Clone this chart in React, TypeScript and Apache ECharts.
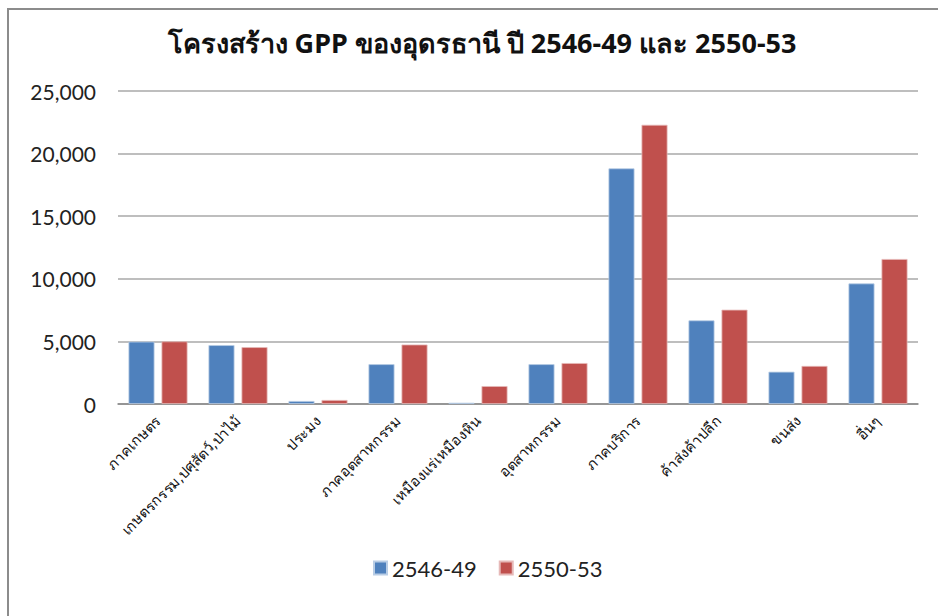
import React, { useEffect, useRef } from "react";
import * as echarts from "echarts";

const categories = [
  "ภาคเกษตร",
  "เกษตรกรรม,ปศุสัตว์,ป่าไม้",
  "ประมง",
  "ภาคอุตสาหกรรม",
  "เหมืองแร่เหมืองหิน",
  "อุตสาหกรรม",
  "ภาคบริการ",
  "ค้าส่งค้าปลีก",
  "ขนส่ง",
  "อื่นๆ",
];
const series2546 = [4980, 4700, 240, 3180, 100, 3180, 18820, 6680, 2580, 9630];
const series2550 = [5000, 4540, 320, 4750, 1430, 3270, 22300, 7530, 3040, 11580];
const seriesNames = ["2546-49", "2550-53"];
const titleText = "โครงสร้าง GPP ของอุดรธานี ปี 2546-49 และ 2550-53";

export default function App() {
  const ref = useRef<HTMLDivElement>(null);
  useEffect(() => {
    if (!ref.current) return;
    const chart = echarts.init(ref.current, null, { renderer: "svg" });
    const numFont = "Lato, 'Open Sans', sans-serif";
    chart.setOption({
      animation: false,
      backgroundColor: "#ffffff",
      title: {
        text: titleText,
        left: 477,
        textAlign: "center",
        top: 24,
        textStyle: {
          fontSize: 27,
          fontWeight: "bold",
          color: "#111",
          fontFamily: "Tahoma, 'Noto Sans', sans-serif",
        },
      },
      graphic: [
        {
          type: "rect",
          shape: { x: 8, y: 9, width: 960, height: 640 },
          style: { fill: "none", stroke: "#8c8c8c", lineWidth: 2 },
          silent: true,
        },
      ],
      legend: {
        data: seriesNames,
        left: 368,
        top: 552,
        itemWidth: 13,
        itemHeight: 13,
        itemGap: 22,
        icon: "rect",
        textStyle: { fontSize: 22, color: "#222", fontFamily: numFont },
      },
      grid: { left: 118, right: 20, top: 91, bottom: 212, containLabel: false },
      xAxis: {
        type: "category",
        data: categories,
        axisLine: { lineStyle: { color: "#888", width: 1.5 } },
        axisTick: { show: false },
        axisLabel: {
          rotate: 45,
          interval: 0,
          fontSize: 14.5,
          color: "#111",
          margin: 14,
          fontFamily: "Tahoma, 'Noto Sans', sans-serif",
        },
      },
      yAxis: {
        type: "value",
        min: 0,
        max: 25000,
        interval: 5000,
        axisLine: { show: false },
        axisTick: { show: false },
        splitLine: { lineStyle: { color: "#a8a8a8", width: 1.5 } },
        axisLabel: {
          fontSize: 21,
          color: "#222",
          margin: 22,
          fontFamily: numFont,
          formatter: (v: number) => v.toLocaleString("en-US"),
        },
      },
      series: [
        {
          name: seriesNames[0],
          type: "bar",
          data: series2546,
          barWidth: 26,
          barGap: "27%",
          itemStyle: { color: "#4F81BD", borderColor: "#b9cde5", borderWidth: 0.8 },
        },
        {
          name: seriesNames[1],
          type: "bar",
          data: series2550,
          barWidth: 26,
          itemStyle: { color: "#C0504D", borderColor: "#e6b9b8", borderWidth: 0.8 },
        },
      ],
    });
    return () => chart.dispose();
  }, []);
  return (
    <div
      ref={ref}
      style={{ position: "absolute", left: 0, top: 0, width: 938, height: 616 }}
    />
  );
}
